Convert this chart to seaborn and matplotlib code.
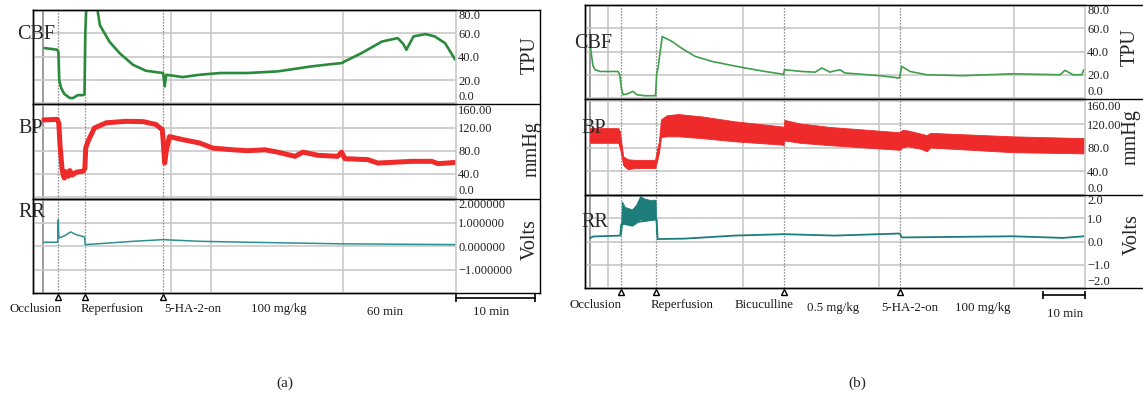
import matplotlib
matplotlib.use("Agg")
import matplotlib.pyplot as plt
import matplotlib.transforms as mtransforms
import seaborn as sns

# ---------------- data : panel (a) ----------------  (time in minutes)
cbf_a_t = [0.2, 1.8, 1.95, 2.05, 2.3, 2.7, 3.4, 3.8, 4.4, 5.1, 5.25, 5.35, 5.45, 5.7, 6.8,
           7.2, 8.4, 9.7, 11.4, 13.0, 14.6, 15.2, 15.4, 15.6, 17.7, 19.8, 22.4, 25.9, 29.7,
           34.0, 36.3, 37.8, 38.2, 40.3, 42.9, 44.9, 45.6, 46.0, 46.9, 48.4, 49.6, 50.9, 52.2]
cbf_a = [47.4, 46.0, 44.0, 20.0, 13.0, 8.0, 4.5, 4.5, 7.0, 7.0, 8.0, 60.0, 78.0, 85.0, 84.0,
         67.0, 53.0, 43.0, 33.0, 28.0, 26.5, 26.0, 14.5, 24.5, 22.5, 24.5, 26.0, 26.0, 27.4,
         31.7, 33.5, 34.5, 36.0, 43.0, 53.0, 56.0, 51.0, 46.0, 57.4, 59.4, 57.4, 51.6, 37.3]

bp_a_t = [0.1, 1.8, 2.0, 2.15, 2.4, 2.55, 2.7, 2.9, 3.2, 3.4, 3.7, 4.2, 5.1, 5.3, 5.4, 5.7,
          6.5, 8.0, 10.5, 12.7, 14.3, 15.1, 15.2, 15.4, 15.6, 16.0, 17.7, 19.8, 21.5, 24.1,
          25.9, 28.1, 29.7, 31.9, 32.9, 34.8, 37.3, 37.8, 38.2, 41.1, 42.4, 46.7, 49.2, 50.0, 52.2]
bp_a = [134, 135, 128, 90, 50, 38, 33, 44, 36, 46, 38, 43, 45, 50, 85, 97,
        120, 129, 131.6, 131, 126, 117, 100, 59, 80, 105, 99.7, 94, 85, 82,
        80.5, 82, 78, 70.7, 78, 72.5, 70.7, 78, 66.6, 65, 59, 62, 62, 58, 60]

rr_a_t = [0.1, 1.85, 1.93, 1.98, 2.06, 2.7, 3.5, 4.2, 5.1, 5.25, 5.35, 7.2, 11.4, 15.2,
          19.8, 25.9, 38.2, 52.2]
rr_a = [0.18, 0.18, 1.14, 0.5, 0.36, 0.45, 0.62, 0.5, 0.42, 0.4, 0.08, 0.12, 0.22, 0.29,
        0.22, 0.18, 0.11, 0.08]

events_a = [1.9, 5.3, 15.2]
grid_a = [0.0, 16.2, 21.3, 38.0]
labels_a = ["Occlusion", "Reperfusion", "5-HA-2-on", "100 mg/kg", "60 min"]

# ---------------- data : panel (b) ----------------
cbf_b_t = [0.0, 0.24, 0.7, 1.2, 2.4, 6.7, 7.1, 7.5, 7.9, 9.0, 10.2, 11.2, 13.1, 15.6, 15.9,
           16.2, 17.2, 19.5, 21.8, 25.0, 29.0, 32.9, 36.9, 41.7, 45.6, 46.1, 46.3, 50.4, 53.6,
           55.2, 57.1, 59.5, 60.7, 69.0, 73.7, 74.2, 76.2, 80.2, 88.8, 100.7, 111.9, 113.1,
           115.0, 117.1, 117.6]
cbf_b = [53, 40, 28, 24.5, 23, 23, 20, 8, 3, 4, 6, 3, 2.2, 2.2, 22,
         26, 53, 48.8, 43, 36, 31.7, 28.8, 26, 23, 20.8, 20.5, 24.5, 23, 22.4,
         26, 22.5, 24.5, 21.7, 19.4, 17.4, 27.4, 23, 20.2, 19.4, 21, 20.2, 24,
         20.2, 20.2, 24.5]

bp_b_t = [0.0, 6.7, 7.1, 7.9, 9.0, 10.7, 15.5, 15.9, 16.4, 16.9, 18.3, 21.0, 26.6, 34.5,
          45.6, 46.1, 46.3, 50.0, 57.1, 73.8, 74.3, 75.7, 78.6, 80.2, 81.0, 100.7, 117.9]
bp_b_low = [88, 88, 80, 50, 43, 45, 45, 55, 70, 98, 99, 99, 96, 90.5,
            85, 84, 92, 88, 84, 76, 80, 82, 78, 73.5, 80, 72, 70]
bp_b_high = [113, 113, 108, 65, 60, 59, 59, 75, 90, 128, 135, 137, 133, 124.6,
             116, 115, 127, 121, 115, 106, 110, 109, 104, 101, 105, 99, 96]

rr_b_t = [0.0, 0.7, 7.2, 7.45, 15.85, 16.1, 22.6, 34.5, 46.2, 58.3, 73.8, 74.2, 100.7, 112.6, 117.6]
rr_b = [0.15, 0.22, 0.26, 0.75, 0.96, 0.11, 0.13, 0.26, 0.32, 0.26, 0.35, 0.18, 0.23, 0.16, 0.23]
rr_occ_t = [7.4, 7.6, 8.3, 10.0, 11.0, 11.9, 13.1, 14.3, 15.6, 15.8]
rr_occ_low = [0.3, 0.75, 0.75, 0.68, 0.8, 0.96, 0.9, 0.96, 0.96, 0.3]
rr_occ_high = [0.7, 1.74, 1.5, 1.39, 1.6, 1.96, 1.85, 1.8, 1.81, 0.9]

events_b = [7.4, 15.7, 46.2, 73.8]
grid_b = [0.0, 4.3, 36.4, 68.8, 101.0]
labels_b = ["Occlusion", "Reperfusion", "Bicuculline", "0.5 mg/kg", "5-HA-2-on", "100 mg/kg"]

row_names = ["CBF", "BP", "RR"]
units = ["TPU", "mmHg", "Volts"]
cbf_ticks, cbf_ticklabels = [0, 20, 40, 60, 80], ["0.0", "20.0", "40.0", "60.0", "80.0"]
bp_ticks, bp_ticklabels = [0, 40, 80, 120, 160], ["0.0", "40.0", "80.0", "120.00", "160.00"]
rr_a_ticks, rr_a_ticklabels = [-1, 0, 1, 2], ["\u22121.000000", "0.000000", "1.000000", "2.000000"]
rr_b_ticks, rr_b_ticklabels = [-2, -1, 0, 1, 2], ["\u22122.0", "\u22121.0", "0.0", "1.0", "2.0"]
scale_label = "10 min"

# ---------------- styling ----------------
sns.set_style("white")
plt.rcParams['font.family'] = ['Liberation Serif', 'DejaVu Serif']
plt.rcParams['axes.unicode_minus'] = True

W, H = 1143, 395
fig = plt.figure(figsize=(W / 100, H / 100), dpi=100)

GRID = '#c8c8c8'
DOT = '#707070'
C_CBF_A, C_CBF_B = '#2a8a3c', '#3f9e4b'
C_BP = '#ee2a2a'
C_RR_A, C_RR_B = '#2b8f8f', '#1c7d7b'


def px_axes(x0, y0, x1, y1):
    return fig.add_axes([x0 / W, 1 - y1 / H, (x1 - x0) / W, (y1 - y0) / H])


def make_panel(x0, x1, xframe, rows):
    top, bottom = rows[0][0], rows[-1][1]
    frame = px_axes(x0, top, xframe, bottom)
    frame.set_xlim(0, 1)
    frame.set_ylim(0, 1)
    frame.set_xticks([])
    frame.set_yticks([])
    for s in frame.spines.values():
        s.set_color('black')
        s.set_linewidth(1.0)
    for (ya, yb) in rows[:-1]:
        frame.axhline((bottom - yb) / (bottom - top), color='black', lw=1.0)
    axes = []
    for (ya, yb) in rows:
        ax = px_axes(x0, ya, x1, yb)
        ax.patch.set_alpha(0)
        axes.append(ax)
    return frame, axes


def style_axes(ax, xlim, ylim, ticks, ticklabels, unit, unit_pos, grid_t, events):
    ax.set_xlim(*xlim)
    ax.set_ylim(*ylim)
    ax.set_xticks([])
    ax.set_xlabel("")
    ax.yaxis.tick_right()
    ax.set_yticks(ticks)
    ax.set_yticklabels(ticklabels)
    ax.tick_params(axis='y', length=0, pad=1.5, labelsize=9, labelcolor='#222222')
    for tk, val in zip(ax.yaxis.get_major_ticks(), ticks):
        if val == ticks[-1]:
            tk.label2.set_va('top')
        elif val == ticks[0] and ylim[0] > ticks[0] - 0.05 * (ylim[1] - ylim[0]):
            tk.label2.set_va('bottom')
    ax.grid(axis='y', color=GRID, lw=1.2, zorder=0)
    ax.grid(axis='x', visible=False)
    for name in ['left', 'top', 'bottom']:
        ax.spines[name].set_color('black')
        ax.spines[name].set_linewidth(1.0)
    ax.spines['right'].set_color(GRID)
    ax.spines['right'].set_linewidth(1.2)
    for g in grid_t:
        ax.axvline(g, color='#8a8a8a' if g == 0 else GRID, lw=1.2, zorder=0.5)
    for e in events:
        ax.axvline(e, color=DOT, lw=0.9, ls=(0, (1, 1.4)), zorder=0.6)
    ax.set_ylabel(unit, fontsize=14.5, rotation=90)
    ax.yaxis.set_label_position('right')
    ax.yaxis.set_label_coords(*unit_pos)


# ---------------- panel (a) ----------------
rows_a = [(10, 104), (104, 199), (199, 293)]
xlim_a = (-1.27, 52.28)
ylims_a = [(-0.6, 80.1), (-3.5, 161.7), (-1.98, 2.02)]
frame_a, axs_a = make_panel(33, 456, 540, rows_a)

sns.lineplot(x=cbf_a_t, y=cbf_a, ax=axs_a[0], color=C_CBF_A, linewidth=1.9,
             estimator=None, sort=False, legend=False)
sns.lineplot(x=bp_a_t, y=bp_a, ax=axs_a[1], color=C_BP, linewidth=3.6,
             estimator=None, sort=False, legend=False)
sns.lineplot(x=rr_a_t, y=rr_a, ax=axs_a[2], color=C_RR_A, linewidth=1.1,
             estimator=None, sort=False, legend=False)

ticks_a = [cbf_ticks, bp_ticks, rr_a_ticks]
tlabels_a = [cbf_ticklabels, bp_ticklabels, rr_a_ticklabels]
unit_pos_a = [(1.154, 0.52), (1.158, 0.526), (1.154, 0.564)]
for i, ax in enumerate(axs_a):
    style_axes(ax, xlim_a, ylims_a[i], ticks_a[i], tlabels_a[i], units[i], unit_pos_a[i],
               grid_a, events_a)

# ---------------- panel (b) ----------------
rows_b = [(5, 99), (99, 195), (195, 288)]
xlim_b = (-1.19, 117.86)
ylims_b = [(-0.6, 79.9), (-0.85, 162.6), (-1.94, 2.01)]
frame_b, axs_b = make_panel(585, 1085, 1150, rows_b)

sns.lineplot(x=cbf_b_t, y=cbf_b, ax=axs_b[0], color=C_CBF_B, linewidth=1.2,
             estimator=None, sort=False, legend=False)
axs_b[1].fill_between(bp_b_t, bp_b_low, bp_b_high, color=C_BP, lw=0.6, edgecolor=C_BP, zorder=2)
sns.lineplot(x=rr_b_t, y=rr_b, ax=axs_b[2], color=C_RR_B, linewidth=1.3,
             estimator=None, sort=False, legend=False)
axs_b[2].fill_between(rr_occ_t, rr_occ_low, rr_occ_high, color=C_RR_B, lw=0.5,
                      edgecolor=C_RR_B, zorder=2)

ticks_b = [cbf_ticks, bp_ticks, rr_b_ticks]
tlabels_b = [cbf_ticklabels, bp_ticklabels, rr_b_ticklabels]
unit_pos_b = [(1.072, 0.548), (1.074, 0.604), (1.076, 0.57)]
for i, ax in enumerate(axs_b):
    style_axes(ax, xlim_b, ylims_b[i], ticks_b[i], tlabels_b[i], units[i], unit_pos_b[i],
               grid_b, events_b)

# ---------------- annotations ----------------
def annotate(ax, rows, events, labels, label_x, label_y, tri_y, bar_x, bar_y, scale_x, scale_y):
    bot = rows[-1][1]
    h = rows[-1][1] - rows[-1][0]
    fy = lambda ypx: (bot - ypx) / h
    tr = mtransforms.blended_transform_factory(ax.transData, ax.transAxes)
    ax.plot(events, [fy(tri_y)] * len(events), marker='^', ms=5, mfc='white', mec='black',
            mew=1.0, ls='none', transform=tr, clip_on=False, zorder=5)
    for s, x, y in zip(labels, label_x, label_y):
        ax.text(x, fy(y), s, transform=tr, ha='center', va='center', fontsize=9.3,
                color='#1a1a1a')
    ax.plot(bar_x, [fy(bar_y)] * 2, color='black', lw=1.2, transform=tr, clip_on=False)
    ax.plot(bar_x, [fy(bar_y)] * 2, color='black', lw=0, marker='|', ms=6, mew=1.2,
            transform=tr, clip_on=False)
    ax.text(scale_x, fy(scale_y), scale_label, transform=tr, ha='center', va='center',
            fontsize=9.3, color='#1a1a1a')


annotate(axs_a[2], rows_a, events_a, labels_a,
         [-1.0, 8.7, 18.9, 29.9, 43.3], [309, 309, 309, 309, 312],
         296.5, [52.28, 62.28], 298, 56.7, 312)
annotate(axs_b[2], rows_b, events_b, labels_b,
         [1.4, 21.9, 41.4, 57.9, 76.2, 93.6], [305, 305, 305, 308, 308, 308],
         292, [107.86, 117.86], 295, 113.1, 314)

# row names
for name, (x, y) in zip(row_names, [(17, 39), (18, 133), (18, 217)]):
    fig.text(x / W, 1 - y / H, name, fontsize=14.5, ha='left', va='baseline', zorder=10)
for name, (x, y) in zip(row_names, [(574, 48), (581, 133), (581, 227)]):
    fig.text(x / W, 1 - y / H, name, fontsize=14.5, ha='left', va='baseline', zorder=10)

fig.text(285 / W, 1 - 383 / H, "(a)", fontsize=11, ha='center', va='center')
fig.text(857 / W, 1 - 383 / H, "(b)", fontsize=11, ha='center', va='center')

fig.savefig("out.png", dpi=100)
